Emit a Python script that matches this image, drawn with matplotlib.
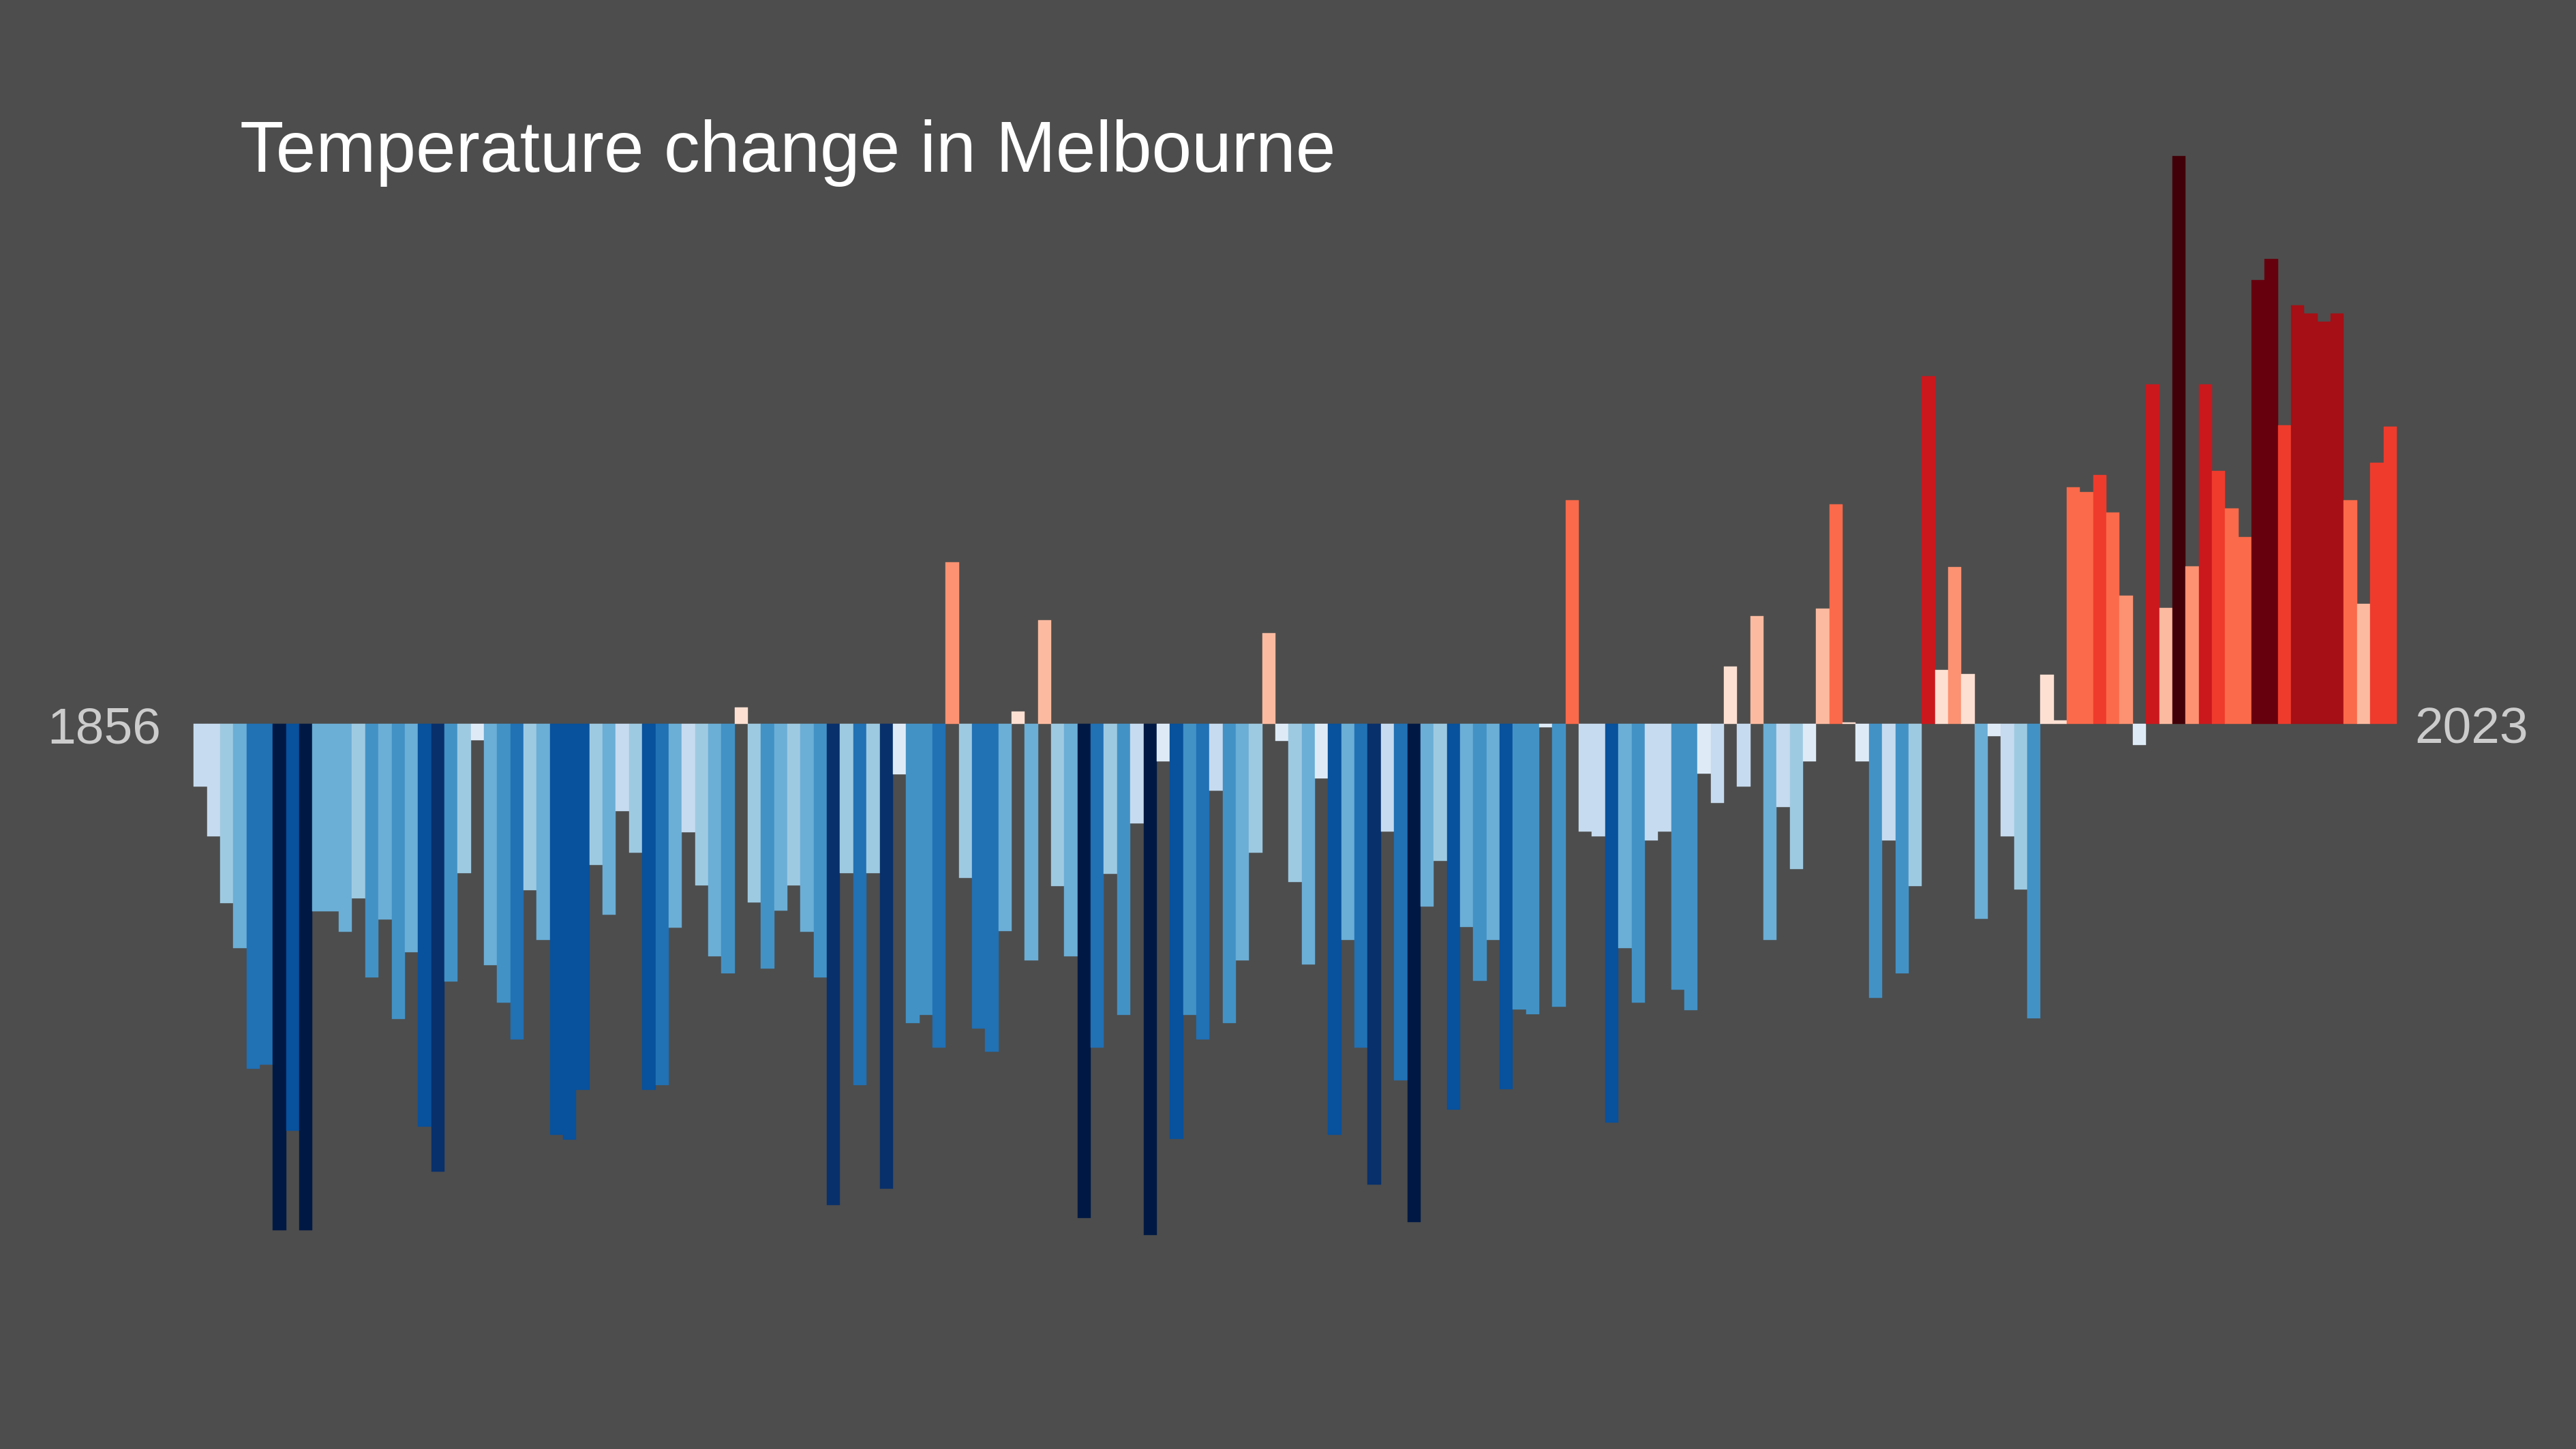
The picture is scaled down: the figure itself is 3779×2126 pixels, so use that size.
import numpy as np
import matplotlib.pyplot as plt
from matplotlib.colors import ListedColormap, BoundaryNorm

# --- Data (annual temperature anomaly, deg C) ---
FIRST_YEAR = 1856
anomaly = [
    -0.206, -0.371, -0.591, -0.739, -1.137, -1.124, -1.670, -1.342, -1.670, -0.618,
    -0.618, -0.685, -0.575, -0.836, -0.645, -0.973, -0.753, -1.328, -1.476, -0.849,
    -0.492, -0.054, -0.796, -0.919, -1.040, -0.548, -0.712, -1.355, -1.371, -1.207,
    -0.465, -0.629, -0.288, -0.425, -1.207, -1.191, -0.672, -0.357, -0.533, -0.766,
    -0.822, 0.054, -0.589, -0.807, -0.616, -0.533, -0.685, -0.836, -1.587, -0.492,
    -1.191, -0.492, -1.533, -0.166, -0.987, -0.960, -1.067, 0.533, -0.508, -1.005,
    -1.081, -0.683, 0.040, -0.780, 0.342, -0.535, -0.766, -1.629, -1.067, -0.494,
    -0.960, -0.328, -1.685, -0.124, -1.369, -0.960, -1.040, -0.220, -0.987, -0.780,
    -0.425, 0.299, -0.056, -0.521, -0.793, -0.180, -1.355, -0.712, -1.067, -1.519,
    -0.355, -1.175, -1.643, -0.603, -0.452, -1.272, -0.670, -0.847, -0.712, -1.204,
    -0.942, -0.957, -0.011, -0.933, 0.737, -0.355, -0.371, -1.315, -0.739, -0.919,
    -0.384, -0.355, -0.876, -0.944, -0.164, -0.261, 0.189, -0.207, 0.355, -0.712,
    -0.274, -0.479, -0.124, 0.380, 0.724, 0.004, -0.124, -0.903, -0.384, -0.822,
    -0.535, 1.146, 0.178, 0.517, 0.164, -0.643, -0.040, -0.371, -0.546, -0.971,
    0.162, 0.011, 0.780, 0.764, 0.820, 0.697, 0.422, -0.070, 1.119, 0.382,
    1.872, 0.519, 1.119, 0.834, 0.710, 0.616, 1.463, 1.533, 0.984, 1.380,
    1.353, 1.326, 1.353, 0.737, 0.396, 0.861, 0.980,
]
years = np.arange(FIRST_YEAR, FIRST_YEAR + len(anomaly))

title = "Temperature change in Melbourne"
start_label = "1856"
end_label = "2023"

# --- Style ---
BG = "#4d4d4d"
stripe_colours = [
    "#001944", "#08306b", "#08519c", "#2171b5", "#4292c6", "#6baed6",
    "#9ecae1", "#c6dbef", "#deebf7",
    "#fee0d2", "#fcbba1", "#fc9272", "#fb6a4a", "#ef3b2c", "#cb181d",
    "#a50f15", "#67000d", "#410007",
]
levels = np.round(np.arange(-1.6, 1.61, 0.2), 2)
cmap = ListedColormap(stripe_colours)
norm = BoundaryNorm(levels, cmap.N, extend="both")

plt.rcParams["font.family"] = ["Liberation Sans", "DejaVu Sans"]


def main():
    fig = plt.figure(figsize=(37.8, 21.26), dpi=100, facecolor=BG)
    ax = fig.add_axes([0, 0, 1, 1])
    ax.set_facecolor(BG)
    ax.axis("off")

    vals = np.array(anomaly)
    bar_colours = cmap(norm(vals))
    ax.bar(years, vals, width=1.0, align="edge",
           color=bar_colours, edgecolor=bar_colours, linewidth=0.3)

    # pixel layout: first bar at x=284 px, 19.35 px per year, baseline at y=1062 px
    ax.set_xlim(FIRST_YEAR - 14.69, FIRST_YEAR + 180.65)
    ax.set_ylim(-2.391, 2.387)

    ax.text(years[0] - 2.5, -0.063, start_label, ha="right", va="baseline",
            fontsize=54, color="#cccccc")
    ax.text(years[-1] + 1 + 1.36, -0.063, end_label, ha="left", va="baseline",
            fontsize=54, color="#cccccc")

    fig.text(0.0931, 0.8815, title, ha="left", va="baseline",
             fontsize=76, color="white")

    fig.savefig("out.png", dpi=100, facecolor=BG)


if __name__ == "__main__":
    main()
